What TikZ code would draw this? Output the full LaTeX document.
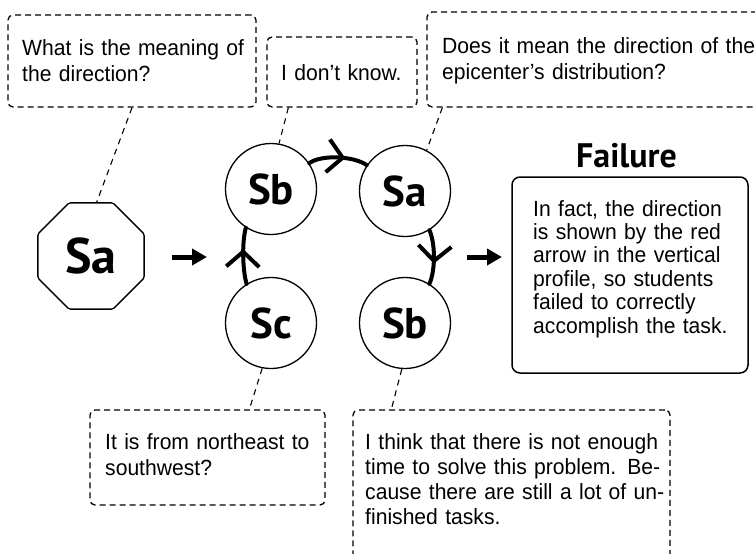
\documentclass[tikz,border=0pt]{standalone}
\usepackage{fontspec}
\setmainfont{Liberation Sans}[FakeStretch=0.96]
\newfontfamily\lblfont{PT Sans}
\usetikzlibrary{shapes.geometric,arrows.meta,decorations.markings}

\tikzset{
  qbox/.style={draw, line width=1.3pt, dash pattern=on 6pt off 4pt,
    rounded corners=5pt, inner sep=0pt},
  qtext/.style={anchor=base west, inner sep=0pt, align=left,
    font=\fontsize{22}{26}\selectfont},
  state/.style={draw, circle, line width=1.3pt, minimum size=91pt, inner sep=0pt,
    font=\lblfont\bfseries\fontsize{43}{43}\selectfont},
  dconn/.style={line width=1.1pt, dash pattern=on 6pt off 5pt},
  cycleedge/.style={line width=4pt, line cap=round},
  chev/.style={postaction={decorate, decoration={markings,
    mark=at position #1 with {\arrow[line width=4pt]{Straight Barb[length=15pt,width=33pt]}}}}},
  fatarrow/.style={line width=5pt, -{Triangle[length=15pt,width=16pt]}},
}

\begin{document}
\begin{tikzpicture}[x=1pt,y=-1pt]
\useasboundingbox (0,0) rectangle (755,554);
\clip (0,0) rectangle (755,554);

% question / answer bubbles
\node[qbox, minimum width=248pt, minimum height=92pt] (q1) at (132,61) {};
\node[qtext, text width=240pt] (q1t) at (22,55) {What is the meaning of\\the direction?};

\node[qbox, minimum width=150pt, minimum height=70pt] (q2) at (342,72) {};
\node[qtext, text width=140pt] (q2t) at (281,80) {I don’t know.};

\node[qbox, minimum width=335pt, minimum height=95pt] (q3) at (594.5,59.5) {};
\node[qtext, text width=320pt] (q3t) at (442,53)
  {Does it mean the direction of the\\epicenter’s distribution?};

\node[qbox, minimum width=235pt, minimum height=95pt] (q4) at (207.5,457.5) {};
\node[qtext, text width=225pt] (q4t) at (105,449) {It is from northeast to\\southwest?};

\node[qbox, minimum width=317pt, minimum height=152pt] (q5) at (511.5,486) {};
\node[qtext, text width=298pt, font=\fontsize{22}{25}\selectfont] (q5t) at (365,449)
  {\makebox[\linewidth][s]{I think that there is not enough}\\
   \makebox[\linewidth][s]{time to solve this problem. Be-}\\
   \makebox[\linewidth][s]{cause there are still a lot of un-}\\
   finished tasks.};

% states
\node[draw, regular polygon, regular polygon sides=8, minimum size=115pt,
  inner sep=0pt, line width=1.3pt, rounded corners=1.5pt,
  font=\lblfont\bfseries\fontsize{50}{50}\selectfont] (oct) at (91,256) {Sa};
\node[state] (sb1) at (271,189) {Sb};
\node[state] (sa2) at (405,191) {Sa};
\node[state] (sc)  at (271,323) {Sc};
\node[state] (sb2) at (405,323) {Sb};

% result
\node[font=\lblfont\bfseries\fontsize{34}{34}\selectfont, anchor=base, inner sep=0pt]
  (ftitle) at (626.5,167) {Failure};
\node[draw, line width=1.5pt, rounded corners=8pt, minimum width=236pt,
  minimum height=196pt, inner sep=0pt] (fbox) at (630,275) {};
\node[qtext, text width=210pt, font=\fontsize{22}{23.4}\selectfont] (ftext) at (533,216)
  {In fact, the direction\\is shown by the red\\arrow in the vertical\\profile, so students\\failed to correctly\\accomplish the task.};

% bubble pointers
\draw[dconn] (q1.south) -- (oct.84);
\draw[dconn] ([xshift=22pt]q2.south west) -- (sb1.80);
\draw[dconn] ([xshift=16pt]q3.south west) -- (sa2.62);
\draw[dconn] (sc.259) -- ([xshift=160pt]q4.north west);
\draw[dconn] (sb2.266) -- ([xshift=39pt]q5.north west);

% transitions in the cycle
\draw[cycleedge, chev=0.62] (sc.122) .. controls +(-4,-14) and +(-4,14) .. (sb1.237);
\draw[cycleedge, chev=0.62] (sb1.34) .. controls +(12,-9) and +(-12,-9) .. (sa2.146);
\draw[cycleedge, chev=0.62] (sa2.302) .. controls +(6,14) and +(6,-14) .. (sb2.58);

% flow arrows
\coordinate (in1) at (172,257);
\coordinate (in2) at (207,257);
\coordinate (out1) at (467,257);
\coordinate (out2) at (502,257);
\draw[fatarrow] (in1) -- (in2);
\draw[fatarrow] (out1) -- (out2);
\end{tikzpicture}
\end{document}
